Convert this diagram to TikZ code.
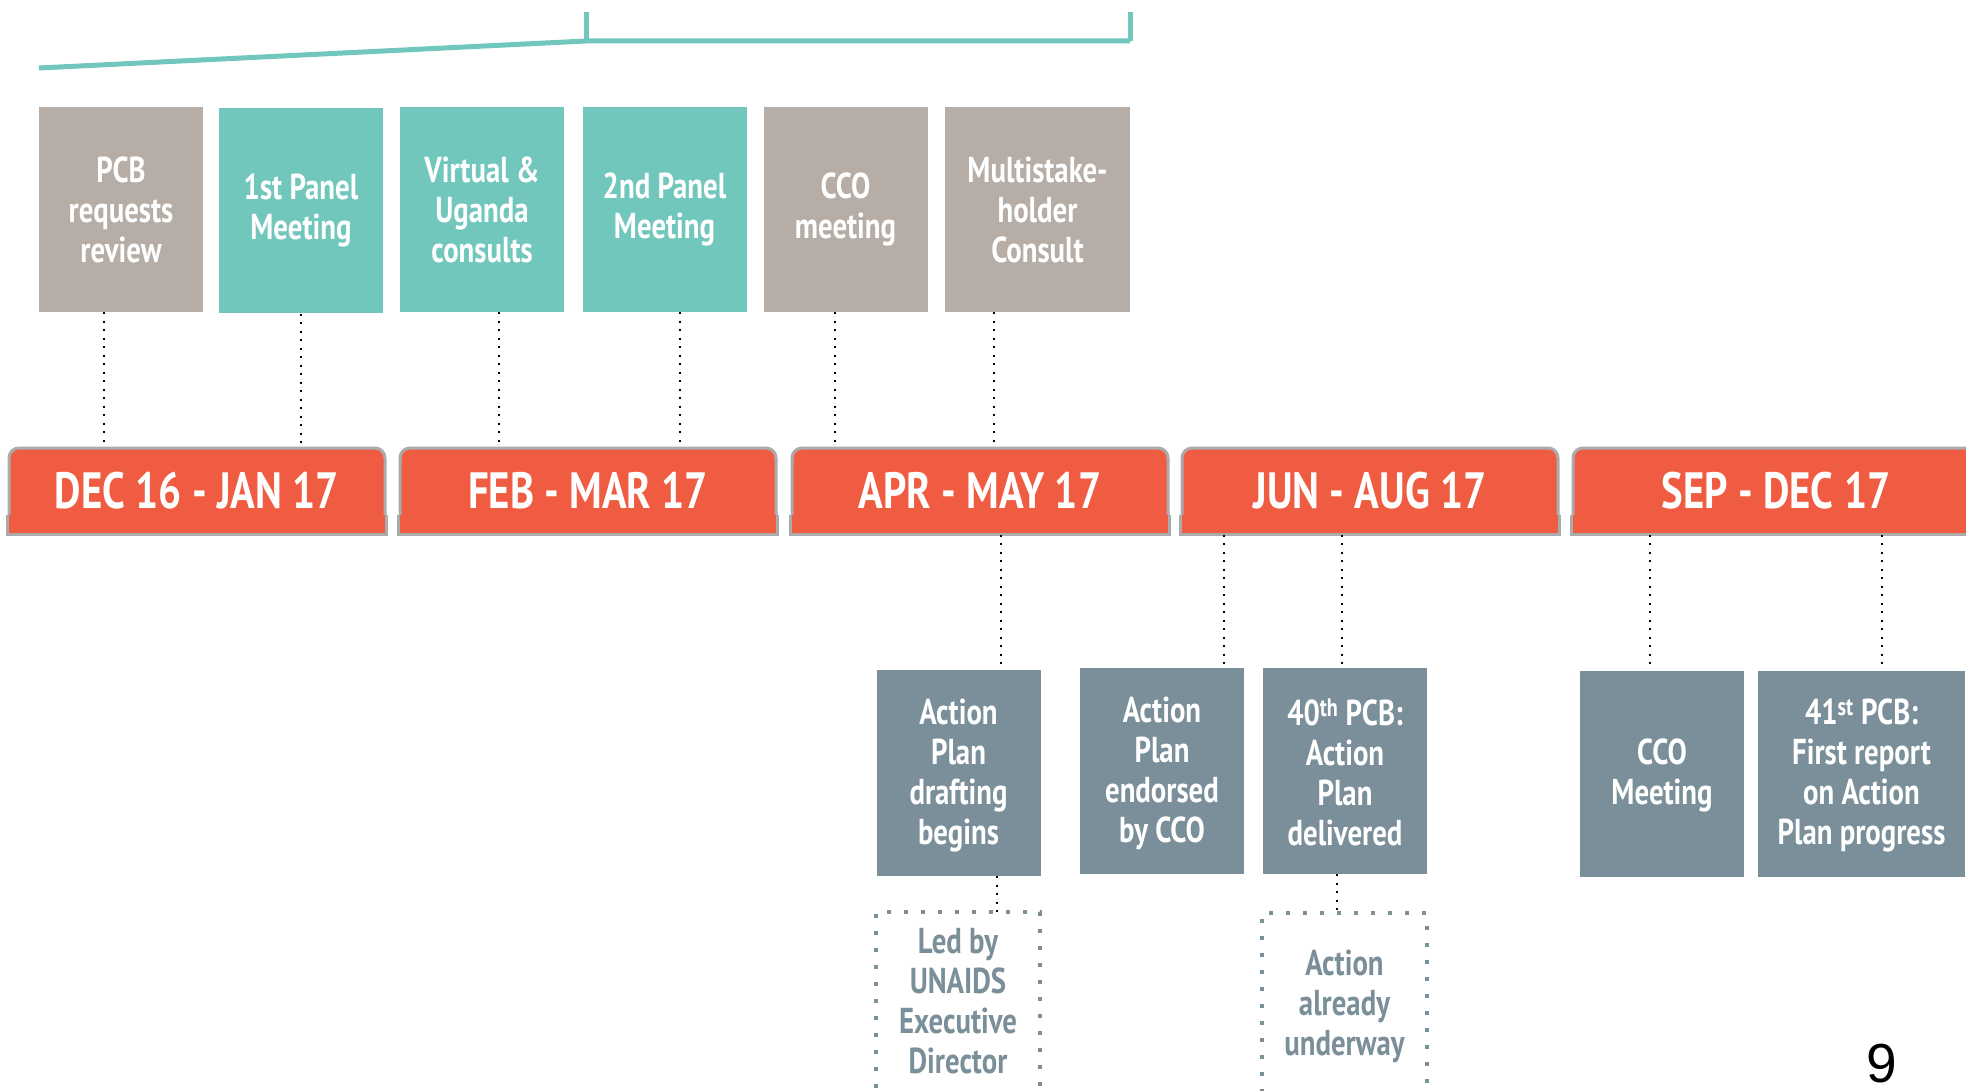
\documentclass[tikz,border=0pt]{standalone}
\usepackage{fontspec}
\setmainfont{PT Sans}
\newfontfamily\condfont[FakeStretch=0.8]{PT Sans}
\newfontfamily\numfont{Liberation Sans}
\usetikzlibrary{calc}
\definecolor{cTaupe}{HTML}{B5ADA6}
\definecolor{cTeal}{HTML}{72C7BD}
\definecolor{cOrange}{HTML}{F05C41}
\definecolor{cSlate}{HTML}{7A8F9A}
\definecolor{cBorder}{HTML}{ABABAB}
\newcommand\tlbar[4]{%
  \node[barbox, minimum width=#3] (#1) at (#2,490.5) {};
  \fill[cOrange] ([xshift=1.5pt]#1.south west) rectangle ([xshift=-1.5pt,yshift=20pt]#1.south east);
  \draw[cBorder, line width=3pt] ([yshift=20pt]#1.south west) -- (#1.south west) -- (#1.south east) -- ([yshift=20pt]#1.south east);
  \node[bartext] (#1t) at (#1) {#4};
}
\newcommand\vlink[3]{%
  \coordinate (vl) at ($(#1.south)+(#3,0)$);
  \draw[conn] (vl) -- (vl |- #2.north);
}
\begin{document}
\begin{tikzpicture}[x=1pt,y=-1pt,
  boxfont/.style={font=\condfont\bfseries\fontsize{36pt}{40pt}\selectfont},
  topbox/.style={boxfont, minimum width=164pt, minimum height=205pt, inner sep=0pt, text=white, align=center},
  botbox/.style={boxfont, minimum width=164pt, minimum height=206pt, inner sep=0pt, fill=cSlate, text=white, align=center},
  dotbox/.style={boxfont, minimum width=164pt, minimum height=173pt, inner sep=0pt, text=cSlate, align=center},
  dotborder/.style={draw=cSlate, line width=4pt, dash pattern=on 4pt off 13pt},
  barbox/.style={draw=cBorder, line width=3pt, fill=cOrange, rounded corners=10pt, minimum height=85pt, inner sep=0pt},
  bartext/.style={text=white, font=\condfont\bfseries\fontsize{51pt}{55pt}\selectfont, inner sep=0pt, text depth=0pt},
  conn/.style={draw=black, line width=2.2pt, dash pattern=on 2.2pt off 6.3pt},
  bracket/.style={draw=cTeal, line width=5pt}
]
\useasboundingbox (0,0) rectangle (1966,1091);

% bracket
\draw[bracket] (39,68) -- (586,41) -- (1130,41);
\draw[bracket] (586,12) -- (586,41);
\draw[bracket] (1130,12) -- (1130,41);

% top boxes
\node[topbox, fill=cTaupe] (b1) at (121,209.5) {PCB\\requests\\review};
\node[topbox, fill=cTeal] (b2) at (301,211) {1st Panel\\Meeting};
\node[topbox, fill=cTeal] (b3) at (482,209.5) {Virtual \&\\Uganda\\consults};
\node[topbox, fill=cTeal] (b4) at (664.5,209.5) {2nd Panel\\Meeting};
\node[topbox, fill=cTaupe] (b5) at (845.5,209.5) {CCO\\meeting};
\node[topbox, fill=cTaupe, minimum width=185pt] (b6) at (1037.5,209.5) {Multistake-\\holder\\Consult};

% month bars
\tlbar{m1}{197}{376pt}{DEC 16 - JAN 17}
\tlbar{m2}{588}{376pt}{FEB - MAR 17}
\tlbar{m3}{980}{376pt}{APR - MAY 17}
\tlbar{m4}{1370}{376pt}{JUN - AUG 17}
\tlbar{m5}{1776}{406pt}{SEP - DEC 17}

% bottom boxes
\node[botbox] (a1) at (958.5,773) {};
\node[botbox] (a2) at (1162,771) {};
\node[botbox] (a3) at (1345,771) {};
\node[botbox] (a4) at (1662,773.5) {};
\node[botbox, minimum width=207pt] (a5) at (1861.5,773.5) {};
\node[boxfont, text=white, align=center] (a1t) at ([yshift=-2.5pt]a1.center) {Action\\Plan\\drafting\\begins};
\node[boxfont, text=white, align=center] (a2t) at ([yshift=-2.5pt]a2.center) {Action\\Plan\\endorsed\\by CCO};
\node[boxfont, text=white, align=center] (a3t) at ([yshift=-1pt]a3.center) {40\textsuperscript{th} PCB:\\Action\\Plan\\delivered};
\node[boxfont, text=white, align=center] (a4t) at ([yshift=-2pt]a4.center) {CCO\\Meeting};
\node[boxfont, text=white, align=center] (a5t) at ([yshift=-1.5pt]a5.center) {41\textsuperscript{st} PCB:\\First report\\on Action\\Plan progress};

% dotted boxes
\node[dotbox] (d1) at (958,1001) {Led by\\UNAIDS\\Executive\\Director};
\node[dotbox] (d2) at (1344.5,1006) {Action\\already\\underway};
\draw[dotborder] (d1.south west) -- ([yshift=2.5pt]d1.north west) -- ([yshift=2.5pt]d1.north east) -- (d1.south east);
\draw[dotborder] (d2.south west) -- ([yshift=6.5pt]d2.north west) -- ([yshift=6.5pt]d2.north east) -- (d2.south east);

% connectors
\vlink{b1}{m1}{-17}
\vlink{b2}{m1}{0}
\vlink{b3}{m2}{17}
\vlink{b4}{m2}{15.5}
\vlink{b5}{m3}{-10.5}
\vlink{b6}{m3}{-43.5}
\vlink{m3}{a1}{21}
\vlink{m4}{a2}{-146}
\vlink{m4}{a3}{-28.3}
\vlink{m5}{a4}{-126}
\vlink{m5}{a5}{106}
\coordinate (e1) at ($(a1.south)+(38.5,0)$);
\draw[conn] (e1) -- ([yshift=2.5pt]e1 |- d1.north);
\coordinate (e2) at ($(a3.south)+(-8,0)$);
\draw[conn] (e2) -- ([yshift=6.5pt]e2 |- d2.north);

% page number
\node[font=\numfont\fontsize{55pt}{60pt}\selectfont, inner sep=0pt, text depth=0pt] (pg) at (1882,1063) {9};
\end{tikzpicture}
\end{document}
